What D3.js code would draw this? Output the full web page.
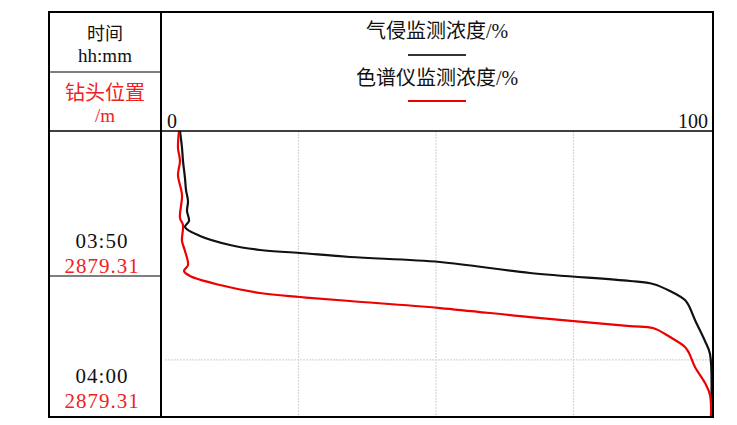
<!DOCTYPE html>
<html lang="zh">
<head>
<meta charset="UTF-8">
<title>气侵监测浓度</title>
<script src="https://d3js.org/d3.v7.min.js"></script>
<style>
  body { margin: 0; background: #fff; }
  text { font-family: "Liberation Serif", "Noto Sans CJK SC", serif; }
</style>
</head>
<body>
<div id="chart"></div>
<script>
// concentration (%) vs minutes after 03:40
var gasConc  = [3.45, 3.82, 4.0, 4.36, 4.55, 4.91, 4.73, 5.09, 4.36, 7.09, 12.55, 18.0, 25.27, 34.36, 50.73, 67.09, 85.27, 89.45, 92.55, 95.27, 96.0, 97.09, 98.91, 99.82, 100];
var gasTime  = [0, 1.19, 2.10, 3.29, 4.13, 4.90, 5.59, 6.29, 6.71, 7.34, 7.97, 8.32, 8.53, 8.81, 9.16, 9.93, 10.49, 10.70, 11.19, 11.82, 12.24, 13.22, 14.69, 15.59, 20];
var chromConc = [3.27, 3.09, 3.45, 3.09, 3.82, 3.45, 4.0, 3.82, 4.36, 4.91, 4.18, 5.27, 10.73, 18.0, 25.27, 34.36, 50.73, 67.09, 85.27, 89.45, 92.55, 95.27, 96.0, 97.09, 98.91, 99.82, 100];
var chromTime = [0, 1.19, 2.10, 3.08, 4.48, 6.08, 6.57, 7.69, 8.39, 9.37, 9.79, 10.14, 10.77, 11.33, 11.61, 11.89, 12.38, 13.01, 13.64, 13.78, 14.41, 15.10, 15.52, 16.50, 17.62, 18.46, 20];

var rowMinutes = [10, 20];
var rowTimes = ["03:50", "04:00"];
var rowDepths = ["2879.31", "2879.31"];
var xGrid = [25, 50, 75];
var yGrid = [16];

var W = 737, H = 425;
var L = 49, T = 12, R = 713, B = 417, colX = 161, headY = 131, splitY = 72;

var svg = d3.select("#chart").append("svg")
  .attr("width", W).attr("height", H);

var x = d3.scaleLinear().domain([0, 100]).range([colX, 711]);
var y = d3.scaleLinear().domain([0, 20]).range([headY, B]);

// grid
svg.selectAll(".vg").data(xGrid).enter().append("line")
  .attr("x1", function(d){ return x(d); }).attr("x2", function(d){ return x(d); })
  .attr("y1", headY).attr("y2", B)
  .attr("stroke", "#d8d8d8").attr("stroke-width", 1.2).attr("stroke-dasharray", "2,1");
svg.selectAll(".hg").data(yGrid).enter().append("line")
  .attr("x1", 165).attr("x2", 711)
  .attr("y1", function(d){ return y(d); }).attr("y2", function(d){ return y(d); })
  .attr("stroke", "#d8d8d8").attr("stroke-width", 1.2).attr("stroke-dasharray", "2,1");

// curves
var line = d3.line()
  .x(function(d){ return x(d[0]); })
  .y(function(d){ return y(d[1]); })
  .curve(d3.curveCatmullRom.alpha(0.5));

svg.append("path").datum(d3.zip(gasConc, gasTime))
  .attr("d", line).attr("fill", "none")
  .attr("stroke", "#111").attr("stroke-width", 2.2);
svg.append("path").datum(d3.zip(chromConc, chromTime))
  .attr("d", line).attr("fill", "none")
  .attr("stroke", "#ee0000").attr("stroke-width", 2.2);

// table lines
svg.append("rect").attr("x", L).attr("y", T).attr("width", R - L).attr("height", B - T)
  .attr("fill", "none").attr("stroke", "#000").attr("stroke-width", 2);
svg.append("line").attr("x1", colX).attr("x2", colX).attr("y1", T).attr("y2", B)
  .attr("stroke", "#000").attr("stroke-width", 2);
svg.append("line").attr("x1", L).attr("x2", R).attr("y1", headY).attr("y2", headY)
  .attr("stroke", "#000").attr("stroke-width", 1.5);
svg.append("line").attr("x1", L).attr("x2", colX).attr("y1", splitY).attr("y2", splitY)
  .attr("stroke", "#000").attr("stroke-width", 1.2);
svg.selectAll(".rowline").data(rowMinutes.slice(0, -1)).enter().append("line")
  .attr("x1", L).attr("x2", colX)
  .attr("y1", function(d){ return y(d) + 2; }).attr("y2", function(d){ return y(d) + 2; })
  .attr("stroke", "#000").attr("stroke-width", 1.2);

// left header
var cx = (L + colX) / 2;
svg.append("text").attr("x", cx).attr("y", 40).attr("text-anchor", "middle")
  .attr("font-size", 18).attr("fill", "#111").text("时间");
svg.append("text").attr("x", cx).attr("y", 62).attr("text-anchor", "middle")
  .attr("font-size", 19).attr("fill", "#111").text("hh:mm");
svg.append("text").attr("x", cx).attr("y", 100).attr("text-anchor", "middle")
  .attr("font-size", 20).attr("fill", "#ee2222").text("钻头位置");
svg.append("text").attr("x", cx).attr("y", 122).attr("text-anchor", "middle")
  .attr("font-size", 19).attr("fill", "#ee2222").text("/m");

// row labels
svg.selectAll(".rt").data(rowMinutes).enter().append("text")
  .attr("x", cx - 3).attr("y", function(d, i){ return y(d) - 26 - 8 * i; })
  .attr("text-anchor", "middle").attr("font-size", 21).attr("letter-spacing", 1)
  .attr("fill", "#111")
  .text(function(d, i){ return rowTimes[i]; });
svg.selectAll(".rd").data(rowMinutes).enter().append("text")
  .attr("x", cx - 3).attr("y", function(d, i){ return y(d) - 1 - 8 * i; })
  .attr("text-anchor", "middle").attr("font-size", 21).attr("letter-spacing", 1)
  .attr("fill", "#ee2222")
  .text(function(d, i){ return rowDepths[i]; });

// legend header
var lx = (colX + R) / 2;
svg.append("text").attr("x", lx).attr("y", 38).attr("text-anchor", "middle")
  .attr("font-size", 20).attr("fill", "#111").text("气侵监测浓度/%");
svg.append("line").attr("x1", lx - 29).attr("x2", lx + 29).attr("y1", 55).attr("y2", 55)
  .attr("stroke", "#333").attr("stroke-width", 2);
svg.append("text").attr("x", lx).attr("y", 85).attr("text-anchor", "middle")
  .attr("font-size", 20).attr("fill", "#111").text("色谱仪监测浓度/%");
svg.append("line").attr("x1", lx - 29).attr("x2", lx + 29).attr("y1", 101).attr("y2", 101)
  .attr("stroke", "#ee0000").attr("stroke-width", 2);

// axis end labels
svg.append("text").attr("x", x(0) + 6).attr("y", 128).attr("font-size", 20)
  .attr("fill", "#111").text("0");
svg.append("text").attr("x", x(100) - 3).attr("y", 128).attr("text-anchor", "end")
  .attr("font-size", 20).attr("fill", "#111").text("100");
</script>
</body>
</html>
